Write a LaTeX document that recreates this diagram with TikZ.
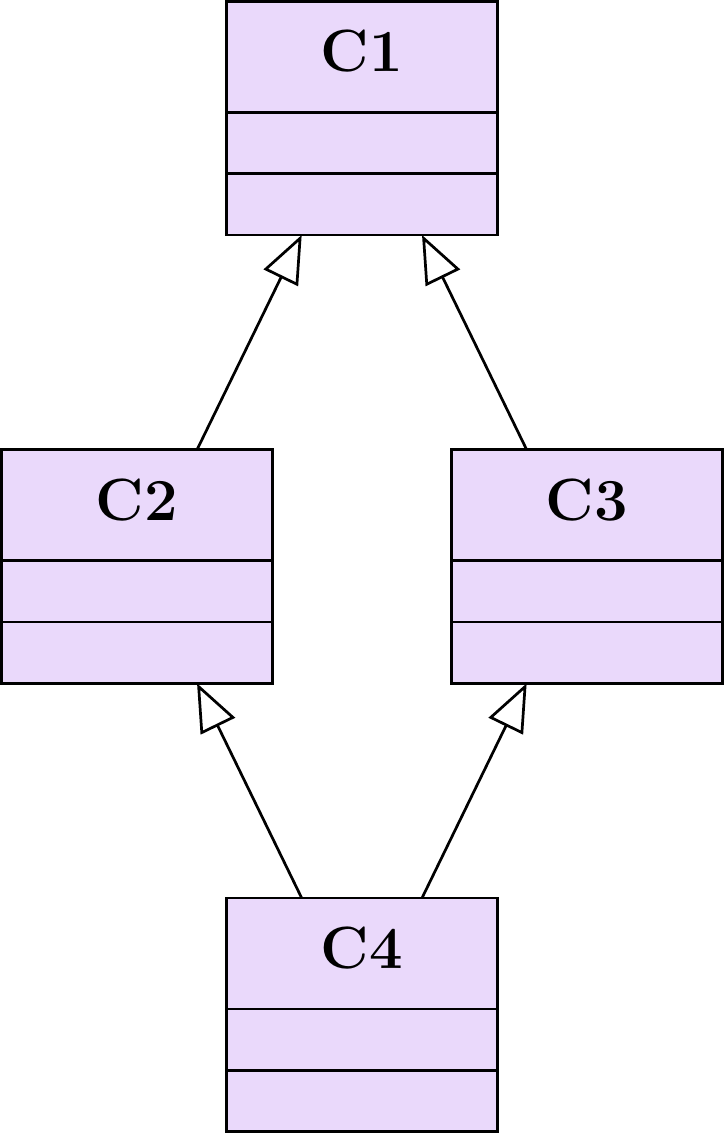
\documentclass[tikz,border=0pt]{standalone}
\usetikzlibrary{positioning,arrows.meta}
\definecolor{umlfill}{RGB}{234,217,251}
\begin{document}
\begin{tikzpicture}[node distance=39.6pt,every node/.style={draw,fill=umlfill,line width=0.5pt,minimum width=50pt,outer sep=0pt,inner sep=0pt}]
\tikzstyle{title}=[minimum height=20.5pt,text depth=2.2pt,font=\fontsize{11}{13}\selectfont\bfseries]
\tikzstyle{part}=[minimum height=11.3pt]
\tikzstyle{arrow}=[draw,line width=0.5pt,-{Triangle[open,length=8.8pt,width=7pt]}]
\node[title](n10){C1};
\node[part,below=0pt of n10](n11){};
\node[part,below=0pt of n11](n12){};

\node[title,below=of n12,xshift=-41.5pt](n20){C2};
\node[part,below=0pt of n20](n21){};
\node[part,below=0pt of n21](n22){};

\node[title,below=of n12,xshift=41.5pt](n30){C3};
\node[part,below=0pt of n30](n31){};
\node[part,below=0pt of n31](n32){};

\node[title,below=of n22,xshift=41.5pt](n40){C4};
\node[part,below=0pt of n40](n41){};
\node[part,below=0pt of n41](n42){};

\draw[arrow]([xshift=11.1pt]n20.north) -- ([xshift=-11.1pt]n12.south);
\draw[arrow]([xshift=-11.1pt]n30.north) -- ([xshift=11.1pt]n12.south);
\draw[arrow]([xshift=-11.1pt]n40.north) -- ([xshift=11.1pt]n22.south);
\draw[arrow]([xshift=11.1pt]n40.north) -- ([xshift=-11.1pt]n32.south);
\end{tikzpicture}
\end{document}
